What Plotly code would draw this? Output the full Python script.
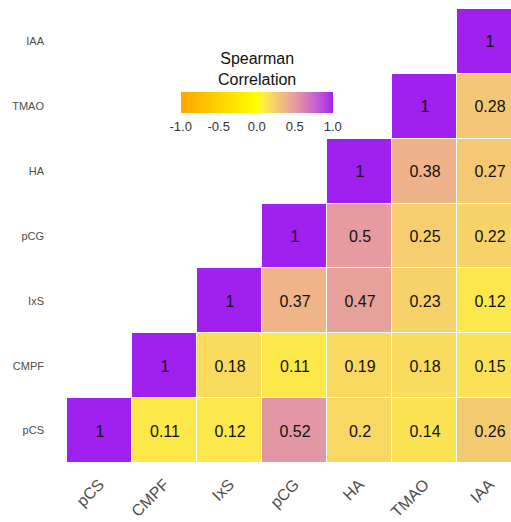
import plotly.graph_objects as go

# ---- data ----
labels = ["pCS", "CMPF", "IxS", "pCG", "HA", "TMAO", "IAA"]
row_pCS = [1, 0.11, 0.12, 0.52, 0.2, 0.14, 0.26]
row_CMPF = [None, 1, 0.18, 0.11, 0.19, 0.18, 0.15]
row_IxS = [None, None, 1, 0.37, 0.47, 0.23, 0.12]
row_pCG = [None, None, None, 1, 0.5, 0.25, 0.22]
row_HA = [None, None, None, None, 1, 0.38, 0.27]
row_TMAO = [None, None, None, None, None, 1, 0.28]
row_IAA = [None, None, None, None, None, None, 1]
cbar_vals = [-1.0, -0.5, 0.0, 0.5, 1.0]
cbar_text = ["-1.0", "-0.5", "0.0", "0.5", "1.0"]

z = [row_pCS, row_CMPF, row_IxS, row_pCG, row_HA, row_TMAO, row_IAA]
text = [["" if v is None else f"{v:g}" for v in r] for r in z]

# ---- colour scale interpolated in CIELAB (like ggplot2) ----
def hex_to_rgb(h):
    h = h.lstrip("#")
    return [int(h[i:i + 2], 16) for i in (0, 2, 4)]

def to_lab(rgb):
    def lin(c):
        c = c / 255
        return c / 12.92 if c <= 0.04045 else ((c + 0.055) / 1.055) ** 2.4
    r, g, b = (lin(c) for c in rgb)
    X = (0.4124 * r + 0.3576 * g + 0.1805 * b) / 0.95047
    Y = (0.2126 * r + 0.7152 * g + 0.0722 * b)
    Z = (0.0193 * r + 0.1192 * g + 0.9505 * b) / 1.08883
    def f(t):
        return t ** (1 / 3) if t > (6 / 29) ** 3 else t / (3 * (6 / 29) ** 2) + 4 / 29
    fx, fy, fz = f(X), f(Y), f(Z)
    return [116 * fy - 16, 500 * (fx - fy), 200 * (fy - fz)]

def from_lab(lab):
    L, a, b = lab
    fy = (L + 16) / 116
    fx = fy + a / 500
    fz = fy - b / 200
    def finv(t):
        return t ** 3 if t > 6 / 29 else 3 * (6 / 29) ** 2 * (t - 4 / 29)
    X, Y, Z = finv(fx) * 0.95047, finv(fy), finv(fz) * 1.08883
    r = 3.2406 * X - 1.5372 * Y - 0.4986 * Z
    g = -0.9689 * X + 1.8758 * Y + 0.0415 * Z
    bb = 0.0557 * X - 0.2040 * Y + 1.0570 * Z
    def gam(c):
        c = max(0.0, min(1.0, c))
        return 12.92 * c if c <= 0.0031308 else 1.055 * c ** (1 / 2.4) - 0.055
    return "rgb(%d,%d,%d)" % tuple(round(gam(c) * 255) for c in (r, g, bb))

low, mid, high = (to_lab(hex_to_rgb(c)) for c in ("#FFA500", "#FFFF00", "#A020F0"))
colorscale = []
N = 40
for i in range(N + 1):
    t = i / N
    if t <= 0.5:
        u = t / 0.5
        lab = [low[k] + (mid[k] - low[k]) * u for k in range(3)]
    else:
        u = (t - 0.5) / 0.5
        lab = [mid[k] + (high[k] - mid[k]) * u for k in range(3)]
    colorscale.append([t, from_lab(lab)])

# ---- figure ----
W, H = 511, 522
ml, mr, mt, mb = 67, 0, 9, 59
plot_w = W - ml - mr
plot_h = H - mt - mb
cell = 65
x_hi = -0.5 + plot_w / cell

def px_x(px):  # page pixel -> paper x
    return (px - ml) / plot_w

def px_y(py):  # page pixel -> paper y
    return (H - mb - py) / plot_h

FONT = "Liberation Sans, Arial, sans-serif"

fig = go.Figure(go.Heatmap(
    x=labels, y=labels, z=z, text=text, texttemplate="%{text}",
    textfont=dict(size=16, color="#111111", family=FONT),
    colorscale=colorscale, zmin=-1, zmax=1, xgap=1, ygap=1,
    hoverinfo="skip",
    colorbar=dict(
        orientation="h", lenmode="pixels", len=152, thickness=21,
        x=px_x(256.7), xanchor="center",
        y=px_y(91.7), yanchor="top",
        xpad=0, ypad=0, outlinewidth=0,
        tickvals=cbar_vals, ticktext=cbar_text,
        ticks="outside", ticklen=3, tickcolor="white", tickwidth=1,
        tickfont=dict(size=13, color="#333333", family=FONT),
    ),
))

fig.add_annotation(
    text="Spearman<br>Correlation", xref="paper", yref="paper",
    x=px_x(256.7), y=px_y(69),
    xanchor="center", yanchor="middle", showarrow=False, align="center",
    font=dict(size=16, color="#111111", family=FONT),
)

fig.update_layout(
    width=W, height=H, margin=dict(l=ml, r=mr, t=mt, b=mb, pad=0, autoexpand=False),
    paper_bgcolor="white", plot_bgcolor="white",
    font=dict(family=FONT),
    xaxis=dict(range=[-0.5, x_hi], showgrid=False, zeroline=False, showline=False,
               tickangle=-45, ticks="", ticklabelstandoff=8, automargin=False,
               tickfont=dict(size=16, color="#4D4D4D"), fixedrange=True),
    yaxis=dict(range=[-0.5, 6.5], showgrid=False, zeroline=False, showline=False,
               ticks="", ticklabelstandoff=22, automargin=False,
               tickfont=dict(size=11, color="#4D4D4D"), fixedrange=True),
)

fig.write_html(
    "out.html",
    config={"displayModeBar": False, "staticPlot": True},
    post_script=(
        "document.body.style.margin='0px';"
        "document.body.style.overflow='hidden';"
        "document.documentElement.style.overflow='hidden';"
    ),
)
